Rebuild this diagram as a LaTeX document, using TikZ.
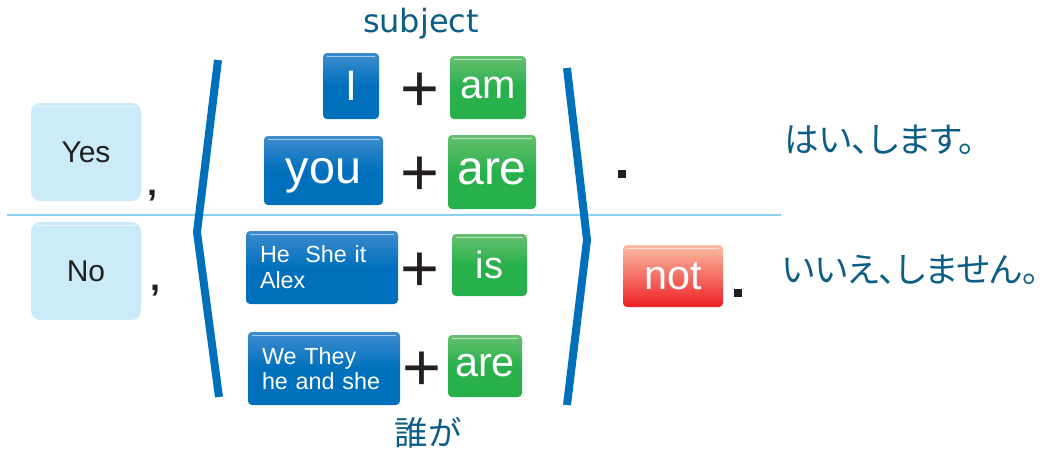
\documentclass[tikz,border=0pt]{standalone}
\usepackage{fontspec}
\newfontfamily\labelfont{Liberation Sans}
\newfontfamily\subjfont{DejaVu Sans}
\newfontfamily\jpfont{Noto Sans CJK JP}
\newfontfamily\jppfont[CharacterWidth=AlternateProportional]{Noto Sans CJK JP}
\usepackage{tikz}
\usetikzlibrary{shapes,fit,calc,positioning}
\definecolor{blueT}{RGB}{62,140,206}
\definecolor{blueB}{RGB}{0,112,188}
\definecolor{greenT}{RGB}{104,192,112}
\definecolor{greenB}{RGB}{40,176,76}
\definecolor{redT}{RGB}{250,190,165}
\definecolor{redB}{RGB}{237,32,36}
\definecolor{lightbox}{RGB}{204,235,249}
\definecolor{bracketblue}{RGB}{0,112,186}
\definecolor{sepline}{RGB}{140,210,240}
\definecolor{teal}{RGB}{12,94,135}
\definecolor{ink}{RGB}{35,31,32}
\tikzset{gloss/.style={path picture={\draw[white, opacity=0.55, line width=0.6pt] ([xshift=3pt,yshift=-2.2pt]path picture bounding box.north west) -- ([xshift=-3pt,yshift=-2.2pt]path picture bounding box.north east);}}}
\tikzset{answer/.style={fill=lightbox, rounded corners=7pt, inner sep=0pt, minimum width=82.5pt, minimum height=73.5pt, text=ink, font=\labelfont\fontsize{22.5pt}{24pt}\selectfont, gloss}}
\tikzset{subj/.style={rounded corners=3pt, inner sep=0pt, top color=blueT, bottom color=blueB, middle color=blueB, text=white, gloss}}
\tikzset{verb/.style={rounded corners=3pt, inner sep=0pt, top color=greenT, bottom color=greenB, middle color=greenB, text=white, gloss}}
\tikzset{plus/.style={text=ink, inner sep=0pt, font=\labelfont\fontsize{50pt}{50pt}\selectfont}}
\tikzset{comma/.style={text=ink, inner sep=0pt, font=\labelfont\bfseries\fontsize{27pt}{27pt}\selectfont}}
\tikzset{dot/.style={fill=ink, inner sep=0pt, minimum size=6pt}}
\tikzset{note/.style={text=teal, inner sep=0pt}}
\tikzset{bracket/.style={draw=bracketblue, line width=6pt, line join=miter}}

\begin{document}
\begin{tikzpicture}[x=0.75pt,y=-0.75pt]
			\useasboundingbox (0,0) rectangle (1057,454);
			\draw [sepline, line width=1.1pt] (7,215) -- (781,215);
			\node [answer] (yes) at (86,152) {Yes};
			\node [answer] (no)  at (86,271) {No};
			\node [comma]  (c1)  at (152,196) {,};
			\node [comma]  (c2)  at (155,291) {,};
			%
			\draw [bracket] (218,60) -- (197,232) -- (219,397);
			\draw [bracket] (567,68) -- (587,240) -- (567,405);
			%
			\node [note, font=\subjfont\fontsize{24pt}{26pt}\selectfont] (subject) at (421,24) {subject};
			\node [subj, minimum width=42pt, minimum height=49.5pt, font=\labelfont\fontsize{32pt}{34pt}\selectfont] (s1) at (351,86) {I};
			\node [subj, minimum width=89.25pt, minimum height=51.75pt, text depth=0pt, font=\labelfont\fontsize{35pt}{37pt}\selectfont] (s2) at (323.5,170.5) {you};
			\node [subj, minimum width=114pt, minimum height=54.75pt, text width=93pt, align=left, font=\labelfont\fontsize{17.5pt}{19.5pt}\selectfont] (s3) at (322,267.5) {He\ \ She it\\Alex};
			\node [subj, minimum width=114pt, minimum height=54.75pt, text width=93pt, align=left, font=\labelfont\fontsize{17.5pt}{19pt}\selectfont] (s4) at (324,368.5) {We They\\he and she};
			%
			\node [plus] (p1) at (420,92)  {+};
			\node [plus] (p2) at (420,176) {+};
			\node [plus] (p3) at (420,272) {+};
			\node [plus] (p4) at (422,371) {+};
			%
			\node [verb, minimum width=57pt, minimum height=47.25pt, font=\labelfont\fontsize{30pt}{32pt}\selectfont] (v1) at (488,87.5) {am};
			\node [verb, minimum width=66pt, minimum height=55.5pt, font=\labelfont\fontsize{36pt}{38pt}\selectfont] (v2) at (492,172) {are};
			\node [verb, minimum width=56.25pt, minimum height=46.5pt, font=\labelfont\fontsize{28.5pt}{30pt}\selectfont] (v3) at (489.5,265) {is};
			\node [verb, minimum width=55.5pt, minimum height=46.5pt, font=\labelfont\fontsize{31pt}{33pt}\selectfont] (v4) at (485,366) {are};
			\node [note, font=\jpfont\fontsize{25pt}{27pt}\selectfont] (who) at (428,433) {誰が};
			%
			\node [dot] (d1) at (622,174) {};
			\node [rounded corners=3pt, inner sep=0pt, top color=redT, bottom color=redB, text=white, gloss, minimum width=75pt, minimum height=46.5pt, font=\labelfont\fontsize{31pt}{33pt}\selectfont] (not) at (673,276) {not};
			\node [dot, right=7.5pt of not.south east, anchor=south west, yshift=7.5pt] (d2) {};
			\node [note, anchor=west, font=\jppfont\fontsize{26pt}{28pt}\selectfont] (ja1) at (784,140) {はい、します。};
			\node [note, anchor=west, font=\jppfont\fontsize{26pt}{28pt}\selectfont] (ja2) at (782,270) {いいえ、しません。};
			\end{tikzpicture}
\end{document}
